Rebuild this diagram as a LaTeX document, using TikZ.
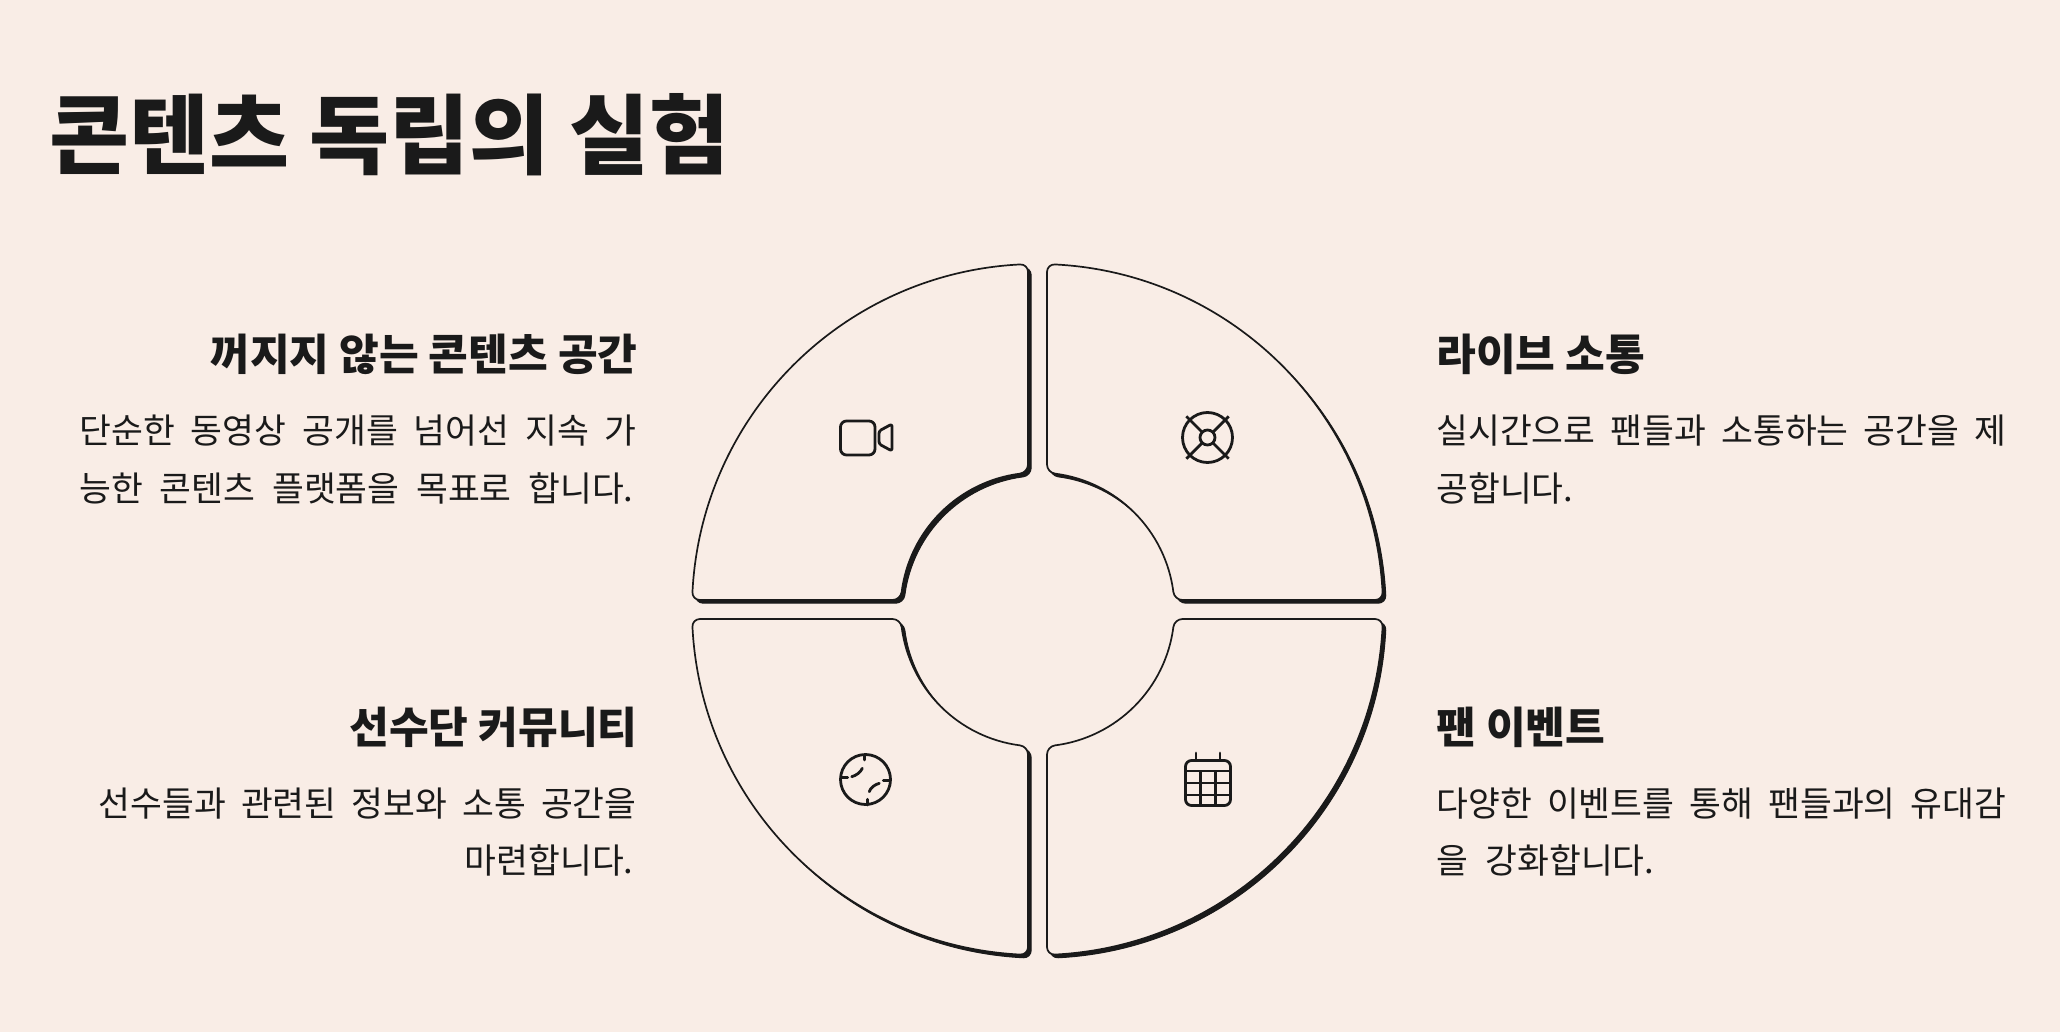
\documentclass[tikz,border=0pt]{standalone}
\usepackage{fontspec}
\newfontfamily\krfont{Noto Sans CJK KR}
\definecolor{pagebg}{HTML}{F9EDE6}
\definecolor{ink}{HTML}{1A1A1A}
\newcommand{\quadpath}{%
  (9.5,145) -- (9.5,337.5)
  .. controls (9.5,342) and (13,345.3) .. (87.1:345.5)
  arc[start angle=87.1,end angle=2.9,radius=345.5]
  .. controls (345.3,13) and (342,9.5) .. (337.5,9.5)
  -- (145,9.5)
  .. controls (140.5,9.5) and (136.5,13) .. (7.32:137)
  arc[start angle=7.32,end angle=82.68,radius=137]
  .. controls (13,136.5) and (9.5,140.5) .. cycle}
\newcommand{\petal}[2]{%
  \path[petalshadow,shift={(1040.7,-612.7)},xscale=#1,yscale=#2] \quadpath;
  \path[petalface,shift={(1037.5,-609.5)},xscale=#1,yscale=#2] \quadpath;}
\newcommand{\just}[2]{\hbox to #1pt{#2}}
\tikzset{
  petalshadow/.style={fill=ink,draw=ink,line width=0.5pt,line join=round},
  petalface/.style={fill=pagebg,draw=ink,line width=0.85pt},
  icon/.style={draw=ink,line width=1.4pt,line cap=round,line join=round},
  title/.style={inner sep=0pt,anchor=base west,text=ink,font=\krfont\bfseries\fontsize{43.5}{44}\selectfont},
  headr/.style={inner sep=0pt,anchor=base east,text=ink,font=\krfont\bfseries\fontsize{21.6}{22}\selectfont},
  headl/.style={inner sep=0pt,anchor=base west,text=ink,font=\krfont\bfseries\fontsize{21.6}{22}\selectfont},
  bodyr/.style={inner sep=0pt,anchor=base east,text=ink,font=\krfont\fontsize{17.3}{18}\selectfont},
  bodyl/.style={inner sep=0pt,anchor=base west,text=ink,font=\krfont\fontsize{17.3}{18}\selectfont}
}
\begin{document}
\begin{tikzpicture}[x=0.5pt,y=0.5pt]
\fill[pagebg] (0,0) rectangle (2060,-1032);
\useasboundingbox (0,0) rectangle (2060,-1032);
\node[title] (ttl) at (49,-168) {콘텐츠 독립의 실험};
% petals
\petal{-1}{1}
\petal{1}{1}
\petal{-1}{-1}
\petal{1}{-1}
% left top text
\node[headr] (h1) at (638,-370) {꺼지지 않는 콘텐츠 공간};
\node[bodyr] (b1a) at (637,-443) {\just{278.5}{단순한\hfill 동영상\hfill 공개를\hfill 넘어선\hfill 지속\hfill 가}};
\node[bodyr] (b1b) at (634,-501) {\just{277}{능한\hfill 콘텐츠\hfill 플랫폼을\hfill 목표로\hfill 합니다.}};
% right top text
\node[headl] (h2) at (1436,-370) {라이브 소통};
\node[bodyl] (b2a) at (1436,-443) {\just{285}{실시간으로\hfill 팬들과\hfill 소통하는\hfill 공간을\hfill 제}};
\node[bodyl] (b2b) at (1436,-501) {공합니다.};
% left bottom text
\node[headr] (h3) at (638,-743) {선수단 커뮤니티};
\node[bodyr] (b3a) at (637,-816) {\just{269}{선수들과\hfill 관련된\hfill 정보와\hfill 소통\hfill 공간을}};
\node[bodyr] (b3b) at (634,-873) {마련합니다.};
% right bottom text
\node[headl] (h4) at (1436,-743) {팬 이벤트};
\node[bodyl] (b4a) at (1436,-816) {\just{285}{다양한\hfill 이벤트를\hfill 통해\hfill 팬들과의\hfill 유대감}};
\node[bodyl] (b4b) at (1436,-873) {\just{109}{을\hfill 강화합니다.}};
% camera
\draw[icon,rounded corners=3pt] (840.5,-421) rectangle (875,-455);
\draw[icon,rounded corners=1.2pt] (879,-431) -- (892,-424) -- (892,-451) -- (879,-444) -- cycle;
% lifebuoy
\draw[icon] (1207.5,-437.5) circle[radius=25];
\draw[icon] (1207.5,-437.5) circle[radius=7.5];
\foreach \a in {45,135,225,315}
  \draw[icon,line cap=butt] ([shift={(1207.5,-437.5)}]\a:7.5) -- ([shift={(1207.5,-437.5)}]\a:30);
% baseball
\draw[icon] (865.5,-779.5) circle[radius=25];
\draw[icon] (864.3,-755) -- (864.3,-760);
\draw[icon] (841,-777.3) -- (847.7,-777.3);
\draw[icon] (883.3,-780.7) -- (890,-780.7);
\draw[icon] (867.3,-799.3) -- (867.3,-805);
\draw[icon] (862.3,-768.3) .. controls (860.5,-772.5) and (856,-775.5) .. (851.7,-776.7);
\draw[icon] (879.3,-783.3) .. controls (875,-784.5) and (870.5,-787.5) .. (869.3,-791.7);
% calendar
\draw[icon,rounded corners=3pt] (1185.5,-760.5) rectangle (1230.5,-805.5);
\draw[icon] (1196,-753) -- (1196,-760);
\draw[icon] (1220,-753) -- (1220,-760);
\draw[icon,line cap=butt] (1185.5,-771) -- (1230.5,-771);
\draw[icon,line cap=butt] (1185.5,-783) -- (1230.5,-783);
\draw[icon,line cap=butt] (1185.5,-795) -- (1230.5,-795);
\draw[icon,line cap=butt] (1200.7,-771) -- (1200.7,-805.5);
\draw[icon,line cap=butt] (1215.5,-771) -- (1215.5,-805.5);
\end{tikzpicture}
\end{document}
